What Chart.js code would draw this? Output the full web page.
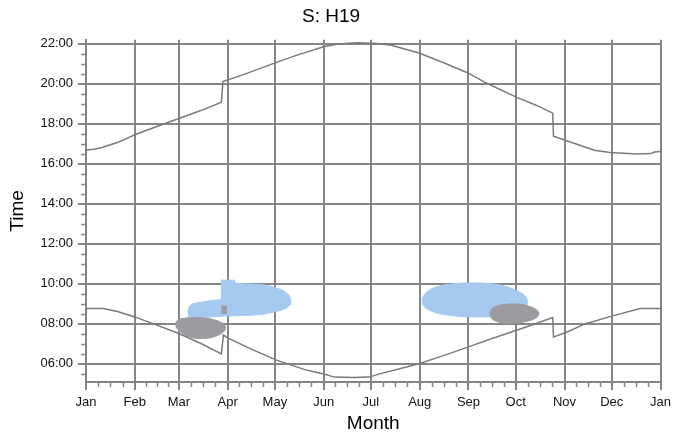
<!DOCTYPE html>
<html>
<head>
<meta charset="utf-8">
<title>S: H19</title>
<script src="https://cdn.jsdelivr.net/npm/chart.js@4.4.1/dist/chart.umd.min.js"></script>
<style>
    html, body { margin: 0; padding: 0; background: #ffffff; }
    #chartWrap { width: 676px; height: 437px; position: relative; }
</style>
</head>
<body>
<div id="chartWrap"><canvas id="sunChart"></canvas></div>
<script>
// x = day of year (0 = 1 Jan), y = hour of day

const monthLabels = ['Jan', 'Feb', 'Mar', 'Apr', 'May', 'Jun', 'Jul', 'Aug', 'Sep', 'Oct', 'Nov', 'Dec', 'Jan'];
const monthStartDays = [0, 31, 59, 90, 120, 151, 181, 212, 243, 273, 304, 334, 365];
const timeTicks = [6, 8, 10, 12, 14, 16, 18, 20, 22];

const sunsetDays  = [0, 5, 10, 20, 31, 45, 59, 73, 86, 87, 100, 121, 135, 151, 160, 172, 185, 194, 212, 228, 243, 254, 274, 286, 296.5, 297, 305, 316, 323, 333, 350, 359, 361, 365];
const sunsetHours = [16.68, 16.72, 16.8, 17.05, 17.44, 17.85, 18.25, 18.65, 19.07, 20.1, 20.45, 21.06, 21.45, 21.84, 21.98, 22.04, 22.0, 21.92, 21.52, 21.02, 20.52, 20.04, 19.3, 18.92, 18.52, 17.37, 17.15, 16.85, 16.67, 16.55, 16.48, 16.5, 16.58, 16.6];

const sunriseDays  = [0, 11, 20, 31, 45, 59, 73, 86, 87.3, 90, 105, 121, 140, 151, 158, 170, 180, 186, 200, 212, 228, 243, 258, 274, 286, 296.5, 297, 305, 317, 334, 352, 365];
const sunriseHours = [8.75, 8.75, 8.6, 8.33, 7.92, 7.5, 7.0, 6.48, 7.42, 7.28, 6.72, 6.17, 5.67, 5.47, 5.32, 5.3, 5.32, 5.47, 5.75, 6.0, 6.42, 6.83, 7.25, 7.68, 8.0, 8.3, 7.33, 7.55, 7.98, 8.37, 8.75, 8.75];

const blueSpringDays  = [64.5, 65.5, 68, 74, 80, 86, 86, 94, 95, 112, 119, 125, 129, 130, 130, 127, 121, 112, 100, 89, 80, 70, 65];
const blueSpringHours = [8.55, 8.85, 9.0, 9.08, 9.15, 9.2, 10.17, 10.17, 10.0, 9.95, 9.83, 9.67, 9.42, 9.17, 8.95, 8.75, 8.6, 8.45, 8.4, 8.38, 8.33, 8.3, 8.35];

const greySpringDays  = [57, 59, 63, 70, 78, 84, 88, 88.5, 86, 80, 74, 68, 63, 59, 57];
const greySpringHours = [8.05, 8.2, 8.27, 8.3, 8.25, 8.12, 7.95, 7.7, 7.5, 7.3, 7.25, 7.28, 7.42, 7.65, 7.85];

const greyMarkDays  = [86, 89, 89, 86];
const greyMarkHours = [8.87, 8.87, 8.5, 8.5];

const blueAutumnDays  = [213.4, 215, 218, 222, 227, 235, 243, 252, 260, 267, 273, 277, 279.5, 280.4, 280, 278, 274, 269, 260, 248, 238, 230, 223, 218, 215, 213.6];
const blueAutumnHours = [9.17, 9.45, 9.67, 9.82, 9.92, 10.0, 10.03, 10.02, 9.97, 9.85, 9.67, 9.5, 9.33, 9.1, 8.9, 8.7, 8.55, 8.42, 8.35, 8.33, 8.35, 8.42, 8.52, 8.67, 8.83, 9.0];

const greyAutumnDays  = [256.5, 258, 261, 265, 270, 276, 281, 285, 287.7, 287, 284, 278, 270, 263, 259, 257];
const greyAutumnHours = [8.5, 8.75, 8.87, 8.95, 8.98, 8.96, 8.88, 8.75, 8.55, 8.35, 8.2, 8.07, 8.0, 8.05, 8.17, 8.33];

const fontFamily = "'Liberation Sans', Arial, sans-serif";
const gridGrey = '#858585';
const lineGrey = '#7a7a7a';
const blueFill = 'rgb(166, 201, 239)';
const greyFill = 'rgb(156, 156, 160)';

function toPoints(days, hours) {
    return days.map((d, i) => ({ x: d, y: hours[i] }));
}

function curveDataset(label, days, hours) {
    return {
        label: label,
        data: toPoints(days, hours),
        borderColor: lineGrey,
        borderWidth: 1.5,
        pointRadius: 0,
        fill: false,
        tension: 0,
        order: 0
    };
}

function patchDataset(label, days, hours, color, order, tension) {
    return {
        label: label,
        data: toPoints(days, hours),
        borderColor: color,
        borderWidth: 1,
        backgroundColor: color,
        pointRadius: 0,
        fill: 'shape',
        tension: tension,
        order: order
    };
}

function formatHour(v) {
    return String(v).padStart(2, '0') + ':00';
}

// short ticks between the labelled ones, quarter months / half hours
const minorTicksPlugin = {
    id: 'minorTicks',
    afterDraw(chart) {
        const { ctx, chartArea } = chart;
        const x = chart.scales.x;
        const y = chart.scales.y;
        ctx.save();
        ctx.strokeStyle = gridGrey;
        ctx.lineWidth = 1.5;
        ctx.beginPath();
        for (let i = 0; i < monthStartDays.length - 1; i++) {
            const start = monthStartDays[i];
            const len = monthStartDays[i + 1] - start;
            for (let k = 1; k < 4; k++) {
                const px = Math.round(x.getPixelForValue(start + len * k / 4)) + 0.5;
                ctx.moveTo(px, chartArea.bottom);
                ctx.lineTo(px, chartArea.bottom + 5);
            }
        }
        for (let h = 5.5; h <= y.max; h += 0.5) {
            if (timeTicks.includes(h)) continue;
            const py = Math.round(y.getPixelForValue(h)) + 0.5;
            ctx.moveTo(chartArea.left, py);
            ctx.lineTo(chartArea.left - 5, py);
        }
        ctx.stroke();
        ctx.restore();
    }
};

function renderSunChart() {
    const ctx = document.getElementById('sunChart').getContext('2d');
    new Chart(ctx, {
        type: 'line',
        data: {
            datasets: [
                curveDataset('Sunset', sunsetDays, sunsetHours),
                curveDataset('Sunrise', sunriseDays, sunriseHours),
                patchDataset('Grey spring', greySpringDays, greySpringHours, greyFill, 1, 0.3),
                patchDataset('Grey mark', greyMarkDays, greyMarkHours, greyFill, 1, 0),
                patchDataset('Grey autumn', greyAutumnDays, greyAutumnHours, greyFill, 1, 0.3),
                patchDataset('Blue spring', blueSpringDays, blueSpringHours, blueFill, 2, 0),
                patchDataset('Blue autumn', blueAutumnDays, blueAutumnHours, blueFill, 2, 0.3)
            ]
        },
        options: {
            responsive: true,
            maintainAspectRatio: false,
            animation: false,
            layout: { padding: { left: 0, right: 14, top: 0, bottom: 0 } },
            plugins: {
                legend: { display: false },
                tooltip: { enabled: false },
                title: {
                    display: true,
                    text: 'S: H19',
                    color: '#000000',
                    font: { family: fontFamily, size: 19, weight: 'normal' },
                    padding: { top: 5, bottom: 12 }
                }
            },
            scales: {
                x: {
                    type: 'linear',
                    min: 0,
                    max: 365,
                    afterBuildTicks: scale => {
                        scale.ticks = monthStartDays.map(v => ({ value: v }));
                    },
                    afterFit: scale => {
                        scale.height = 55;
                    },
                    ticks: {
                        autoSkip: false,
                        maxRotation: 0,
                        padding: 5,
                        color: '#111111',
                        font: { family: fontFamily, size: 13 },
                        callback: (value, index) => monthLabels[index]
                    },
                    grid: {
                        color: gridGrey,
                        lineWidth: 2,
                        tickLength: 8,
                        tickColor: gridGrey,
                        tickWidth: 2
                    },
                    border: { display: true, color: gridGrey, width: 2 },
                    title: {
                        display: true,
                        text: 'Month',
                        color: '#000000',
                        font: { family: fontFamily, size: 19 },
                        padding: { top: 0, bottom: 2 }
                    }
                },
                y: {
                    type: 'linear',
                    min: 5.075,
                    max: 22.19,
                    afterBuildTicks: scale => {
                        scale.ticks = timeTicks.map(v => ({ value: v }));
                    },
                    afterFit: scale => {
                        scale.width = 86;
                    },
                    ticks: {
                        padding: 5,
                        color: '#111111',
                        font: { family: fontFamily, size: 13 },
                        callback: value => formatHour(value)
                    },
                    grid: {
                        color: gridGrey,
                        lineWidth: 2,
                        tickLength: 8,
                        tickColor: gridGrey,
                        tickWidth: 2
                    },
                    border: { display: true, color: gridGrey, width: 2 },
                    title: {
                        display: true,
                        text: 'Time',
                        color: '#000000',
                        font: { family: fontFamily, size: 19 },
                        padding: { top: 6, bottom: 0 }
                    }
                }
            }
        },
        plugins: [minorTicksPlugin]
    });
}

document.addEventListener('DOMContentLoaded', renderSunChart);
</script>
</body>
</html>
